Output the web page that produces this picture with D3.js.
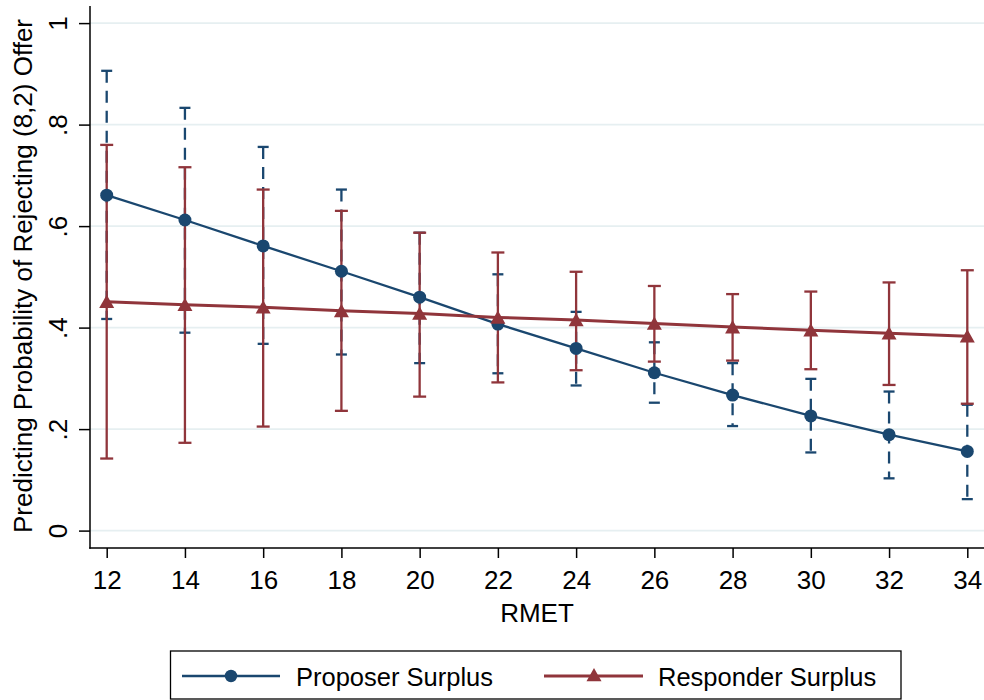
<!DOCTYPE html>
<html>
<head>
<meta charset="utf-8">
<script src="https://cdn.jsdelivr.net/npm/d3@7"></script>
<style>
  html, body { margin: 0; padding: 0; background: #fff; }
  svg { display: block; }
  text { font-family: "Liberation Sans", Arial, sans-serif; fill: #000; }
</style>
</head>
<body>
<svg id="chart" width="984" height="700"></svg>
<script>
// Predicted probabilities by RMET score, with 95% confidence intervals
const rmet = [12, 14, 16, 18, 20, 22, 24, 26, 28, 30, 32, 34];

const proposerEst = [0.661, 0.612, 0.561, 0.511, 0.460, 0.407, 0.359, 0.311, 0.267, 0.226, 0.189, 0.156];
const proposerLo  = [0.417, 0.390, 0.368, 0.347, 0.330, 0.310, 0.286, 0.252, 0.206, 0.154, 0.103, 0.062];
const proposerHi  = [0.906, 0.833, 0.756, 0.672, 0.587, 0.505, 0.431, 0.371, 0.330, 0.299, 0.274, 0.248];

const responderEst = [0.451, 0.445, 0.440, 0.433, 0.428, 0.420, 0.415, 0.408, 0.401, 0.395, 0.389, 0.383];
const responderLo  = [0.142, 0.173, 0.205, 0.236, 0.264, 0.292, 0.316, 0.333, 0.335, 0.318, 0.287, 0.250];
const responderHi  = [0.760, 0.716, 0.672, 0.630, 0.587, 0.548, 0.510, 0.482, 0.466, 0.471, 0.489, 0.513];

const yTicks = [0, 0.2, 0.4, 0.6, 0.8, 1];
const yTickLabels = ["0", ".2", ".4", ".6", ".8", "1"];
const xTicks = rmet;

const seriesNames = ["Proposer Surplus", "Responder Surplus"];
const BLUE = "#1a476f";
const RED = "#90353b";

const svg = d3.select("#chart");

const x = d3.scaleLinear().domain([12, 34]).range([106.7, 967.3]);
const y = d3.scaleLinear().domain([0, 1]).range([530.6, 23.1]);

const plotLeft = 90, plotRight = 984, plotTop = 6, plotBottom = 548;

// grid lines
svg.append("g").selectAll("line").data(yTicks).join("line")
  .attr("x1", plotLeft).attr("x2", plotRight)
  .attr("y1", d => y(d)).attr("y2", d => y(d))
  .attr("stroke", "#e6eff1").attr("stroke-width", 1.6);

// y axis
const yAxis = d3.axisLeft(y).tickValues(yTicks).tickSize(11).tickSizeOuter(0)
  .tickFormat((d, i) => yTickLabels[i]);
const gy = svg.append("g").attr("transform", `translate(${plotLeft},0)`).call(yAxis);
gy.select(".domain").remove();
gy.selectAll(".tick line").attr("stroke", "#000").attr("stroke-width", 1.5);
gy.selectAll(".tick text")
  .attr("x", null).attr("dy", null)
  .attr("transform", "translate(-23,0) rotate(-90)")
  .attr("text-anchor", "middle")
  .style("font-size", "26px")
  .style("font-family", '"Liberation Sans", Arial, sans-serif');

// x axis
const xAxis = d3.axisBottom(x).tickValues(xTicks).tickSize(10).tickSizeOuter(0)
  .tickFormat(d3.format("d"));
const gx = svg.append("g").attr("transform", `translate(0,${plotBottom})`).call(xAxis);
gx.select(".domain").remove();
gx.selectAll(".tick line").attr("stroke", "#000").attr("stroke-width", 1.5);
gx.selectAll(".tick text")
  .attr("y", 41).attr("dy", null)
  .style("font-size", "26px")
  .style("font-family", '"Liberation Sans", Arial, sans-serif');

// axis lines
svg.append("line").attr("x1", plotLeft).attr("x2", plotLeft)
  .attr("y1", plotTop).attr("y2", plotBottom + 0.75)
  .attr("stroke", "#000").attr("stroke-width", 1.5);
svg.append("line").attr("x1", plotLeft - 0.75).attr("x2", plotRight)
  .attr("y1", plotBottom).attr("y2", plotBottom)
  .attr("stroke", "#000").attr("stroke-width", 1.5);

// axis titles
svg.append("text").attr("x", 537).attr("y", 622)
  .attr("text-anchor", "middle").style("font-size", "26px").text("RMET");
svg.append("text")
  .attr("transform", "translate(32,276) rotate(-90)")
  .attr("text-anchor", "middle").style("font-size", "26px")
  .text("Predicting Probability of Rejecting (8,2) Offer");

// confidence interval bars with caps
function drawCI(lo, hi, color, capHalf, dashed) {
  const g = svg.append("g");
  const idx = d3.range(rmet.length);
  g.selectAll("line.v").data(idx).join("line")
    .attr("x1", i => x(rmet[i])).attr("x2", i => x(rmet[i]))
    .attr("y1", i => y(hi[i])).attr("y2", i => y(lo[i]))
    .attr("stroke", color).attr("stroke-width", 2.3)
    .attr("stroke-dasharray", dashed ? "12,8" : null);
  [hi, lo].forEach(arr => {
    g.append("g").selectAll("line").data(idx).join("line")
      .attr("x1", i => x(rmet[i]) - capHalf).attr("x2", i => x(rmet[i]) + capHalf)
      .attr("y1", i => y(arr[i])).attr("y2", i => y(arr[i]))
      .attr("stroke", color).attr("stroke-width", 2.3);
  });
}
drawCI(proposerLo, proposerHi, BLUE, 5.5, true);
drawCI(responderLo, responderHi, RED, 6.5, false);

// estimate lines and markers
const line = d3.line().x(d => x(d[0])).y(d => y(d[1]));
svg.append("path").datum(rmet.map((r, i) => [r, proposerEst[i]]))
  .attr("d", line).attr("fill", "none").attr("stroke", BLUE).attr("stroke-width", 2.3);
svg.append("g").selectAll("circle").data(rmet.map((r, i) => [r, proposerEst[i]])).join("circle")
  .attr("cx", d => x(d[0])).attr("cy", d => y(d[1])).attr("r", 6.5).attr("fill", BLUE);

svg.append("path").datum(rmet.map((r, i) => [r, responderEst[i]]))
  .attr("d", line).attr("fill", "none").attr("stroke", RED).attr("stroke-width", 3);
const tri = (cx, cy) => `M${cx},${cy - 7}L${cx + 7.5},${cy + 6.3}L${cx - 7.5},${cy + 6.3}Z`;
svg.append("g").selectAll("path").data(rmet.map((r, i) => [r, responderEst[i]])).join("path")
  .attr("d", d => tri(x(d[0]), y(d[1]))).attr("fill", RED);

// legend
const legend = svg.append("g");
legend.append("rect").attr("x", 170.5).attr("y", 651).attr("width", 730.5).attr("height", 48)
  .attr("fill", "#fff").attr("stroke", "#000").attr("stroke-width", 1.3);
const legendY = 676;
legend.append("line").attr("x1", 182).attr("x2", 280).attr("y1", legendY).attr("y2", legendY)
  .attr("stroke", BLUE).attr("stroke-width", 2.3);
legend.append("circle").attr("cx", 231).attr("cy", legendY).attr("r", 6.2).attr("fill", BLUE);
legend.append("text").attr("x", 296).attr("y", 686).style("font-size", "25.5px").text(seriesNames[0]);
legend.append("line").attr("x1", 544).attr("x2", 643).attr("y1", legendY).attr("y2", legendY)
  .attr("stroke", RED).attr("stroke-width", 3);
legend.append("path").attr("d", tri(594, legendY - 1)).attr("fill", RED);
legend.append("text").attr("x", 658).attr("y", 686).style("font-size", "25.5px").text(seriesNames[1]);
</script>
</body>
</html>
